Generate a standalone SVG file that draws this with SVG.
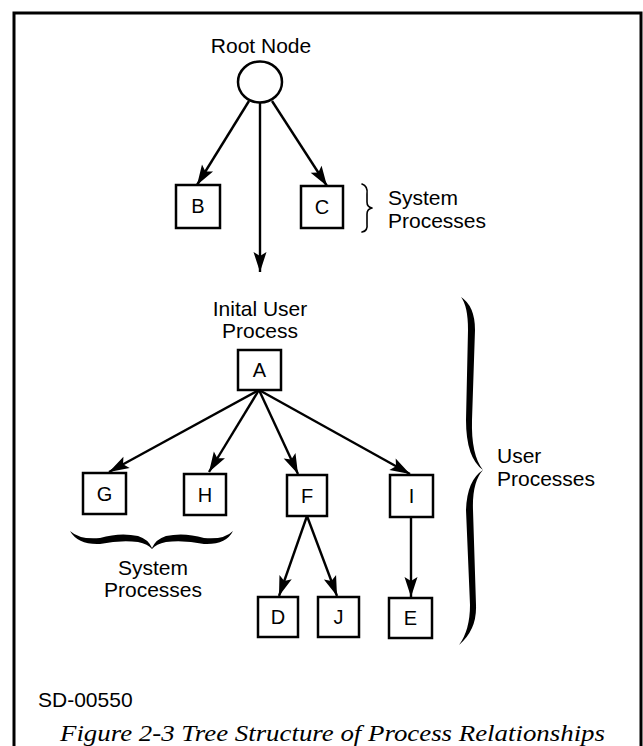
<svg xmlns="http://www.w3.org/2000/svg" width="643" height="746" viewBox="0 0 643 746">
  <style>
    .box { fill: #fff; stroke: #000; stroke-width: 2.5; }
    .lbl { font-family: "Liberation Sans", Arial, sans-serif; font-size: 21px; fill: #000; }
    .let { font-family: "Liberation Sans", Arial, sans-serif; font-size: 20px; fill: #000; text-anchor: middle; }
    .edge { stroke: #000; stroke-width: 2.4; fill: none; marker-end: url(#ah); }
    .brace { fill: none; stroke: #000; stroke-linecap: round; stroke-linejoin: round; }
  </style>
  <defs>
    <marker id="ah" markerUnits="userSpaceOnUse" markerWidth="22" markerHeight="16" viewBox="-21 -8 22 16" refX="0" refY="0" orient="auto">
      <path d="M0,0 L-20,-6.5 L-16,0 L-20,6.5 Z" fill="#000"/>
    </marker>
  </defs>
  <rect x="0" y="0" width="643" height="746" fill="#fff"/>
  <rect id="frame" x="14" y="13" width="627" height="760" fill="none" stroke="#000" stroke-width="3"/>

  <g id="connectors">
    <line class="edge" x1="249" y1="101" x2="197" y2="185"/>
    <line class="edge" x1="260" y1="103" x2="260" y2="272"/>
    <line class="edge" x1="272" y1="101" x2="327" y2="186"/>
    <line class="edge" x1="259" y1="390" x2="109" y2="472"/>
    <line class="edge" x1="259" y1="390" x2="209" y2="472"/>
    <line class="edge" x1="259" y1="390" x2="298" y2="474"/>
    <line class="edge" x1="259" y1="390" x2="410" y2="474"/>
    <line class="edge" x1="307" y1="516" x2="279" y2="596"/>
    <line class="edge" x1="307" y1="516" x2="337" y2="596"/>
    <line class="edge" x1="411" y1="517" x2="411" y2="597"/>
  </g>

  <g id="root">
    <text class="lbl" x="261" y="53" text-anchor="middle" font-size="20">Root Node</text>
    <ellipse cx="260" cy="82" rx="22" ry="20.5" fill="#fff" stroke="#000" stroke-width="2.5"/>
  </g>
  <g id="B"><rect class="box" x="176" y="185" width="44" height="43"/><text class="let" x="198" y="213">B</text></g>
  <g id="C"><rect class="box" x="301" y="186" width="42" height="42"/><text class="let" x="322" y="214">C</text></g>
  <g id="sysproc1">
    <path class="brace" stroke-width="1.6" d="M362,184 Q368,186 367,194 L367,202 Q367,207 372,208 Q367,209 367,214 L367,224 Q368,231 362,232"/>
    <text class="lbl" x="388" y="205">System</text>
    <text class="lbl" x="388" y="228">Processes</text>
  </g>
  <g id="A">
    <text class="lbl" x="260" y="316" text-anchor="middle">Inital User</text>
    <text class="lbl" x="260" y="338" text-anchor="middle">Process</text>
    <rect class="box" x="238" y="350" width="43" height="40"/><text class="let" x="259.5" y="377">A</text>
  </g>
  <g id="G"><rect class="box" x="83" y="473" width="43" height="41"/><text class="let" x="104.5" y="500.5">G</text></g>
  <g id="H"><rect class="box" x="184" y="474" width="42" height="41"/><text class="let" x="205" y="501.5">H</text></g>
  <g id="F"><rect class="box" x="287" y="475" width="40" height="41"/><text class="let" x="307" y="502.5">F</text></g>
  <g id="I"><rect class="box" x="390" y="475" width="43" height="42"/><text class="let" x="411.5" y="503">I</text></g>
  <g id="D"><rect class="box" x="258" y="597" width="40" height="40"/><text class="let" x="278" y="624">D</text></g>
  <g id="J"><rect class="box" x="318" y="597" width="41" height="40"/><text class="let" x="338.5" y="624">J</text></g>
  <g id="E"><rect class="box" x="389" y="598" width="43" height="40"/><text class="let" x="410.5" y="625">E</text></g>

  <g id="sysproc2">
    <path fill="#000" d="M70,531 Q80,540 100,538 Q120,532 138,536 Q148,539 152,548 Q156,539 166,536 Q184,532 204,538 Q224,540 233,531 Q226,545 204,544 Q184,540 166,542 Q156,544 152,549 Q148,544 138,542 Q120,540 100,544 Q78,545 70,531 Z"/>
    <text class="lbl" x="153" y="575" text-anchor="middle">System</text>
    <text class="lbl" x="153" y="597" text-anchor="middle">Processes</text>
  </g>

  <g id="userproc">
    <path fill="#000" d="M461,297 Q475,306 475,330 L472,420 Q471,455 483,470 Q466,458 466,420 L468,330 Q468,306 461,297 Z"/>
    <path fill="#000" d="M483,470 Q467,480 466,510 L470,605 Q470,630 459,645 Q477,630 476,605 L473,510 Q472,482 483,470 Z"/>
    <text class="lbl" x="497" y="463">User</text>
    <text class="lbl" x="497" y="486">Processes</text>
  </g>

  <text class="lbl" x="38" y="707" font-size="19.5">SD-00550</text>
  <text x="60" y="741" font-family="'Liberation Serif', 'Times New Roman', serif" font-style="italic" font-size="24" textLength="545" lengthAdjust="spacingAndGlyphs">Figure 2-3  Tree Structure of Process Relationships</text>
</svg>
